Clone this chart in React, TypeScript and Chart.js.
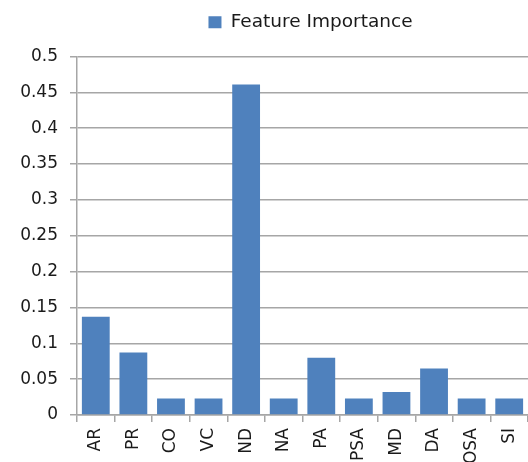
import React, { useEffect, useRef } from "react";
import { Chart, registerables } from "chart.js";

Chart.register(...registerables);

const categories = ["AR", "PR", "CO", "VC", "ND", "NA", "PA", "PSA", "MD", "DA", "OSA", "SI"];
const importance = [0.137, 0.087, 0.023, 0.023, 0.461, 0.023, 0.08, 0.023, 0.032, 0.065, 0.023, 0.023];
const seriesLabel = "Feature Importance";
const yMin = 0;
const yMax = 0.5;
const yStep = 0.05;

const FONT = "'DejaVu Sans', Verdana, sans-serif";
const GRID = "#a6a6a6";
const TEXT = "#1a1a1a";

const legendShift = {
  id: "legendShift",
  afterLayout(chart: any) {
    const l = chart.legend;
    if (l) {
      l.left += 8;
      l.right += 8;
    }
  },
};

export default function App() {
  const ref = useRef<HTMLCanvasElement | null>(null);

  useEffect(() => {
    if (!ref.current) return;
    const chart = new Chart(ref.current, {
      type: "bar",
      data: {
        labels: categories,
        datasets: [
          {
            label: seriesLabel,
            data: importance,
            backgroundColor: "#4f81bd",
            borderWidth: 0,
            categoryPercentage: 1,
            barPercentage: 0.74,
          },
        ],
      },
      plugins: [legendShift],
      options: {
        animation: false,
        responsive: true,
        maintainAspectRatio: false,
        layout: { padding: { top: 0, left: 0, right: 0, bottom: 0 } },
        plugins: {
          tooltip: { enabled: false },
          legend: {
            display: true,
            position: "top",
            fullSize: false,
            weight: 1000,
            labels: {
              color: TEXT,
              font: { family: FONT, size: 18.5 },
              boxWidth: 13,
              boxHeight: 12,
              padding: 13,
            },
          },
          subtitle: {
            display: true,
            text: "",
            weight: 500,
            font: { size: 1, lineHeight: 1 },
            padding: { top: 0, bottom: 14 },
          },
        },
        scales: {
          x: {
            grid: {
              display: true,
              drawOnChartArea: false,
              drawTicks: true,
              tickLength: 7,
              offset: true,
              color: GRID,
              lineWidth: 1.5,
            },
            border: { display: true, color: GRID, width: 1.5 },
            ticks: {
              color: TEXT,
              font: { family: FONT, size: 17 },
              minRotation: 90,
              maxRotation: 90,
              autoSkip: false,
              padding: 6,
            },
            afterFit: (scale: any) => {
              scale.height = 47;
              scale.paddingLeft = 0;
              scale.paddingRight = 0;
            },
          },
          y: {
            min: yMin,
            max: yMax,
            grid: {
              color: GRID,
              lineWidth: 1.5,
              tickLength: 7,
            },
            border: { display: true, color: GRID, width: 1.5 },
            ticks: {
              stepSize: yStep,
              color: TEXT,
              font: { family: FONT, size: 17 },
              padding: 12,
              callback: (v: any) => String(Number(Number(v).toFixed(2))),
            },
            afterFit: (scale: any) => {
              scale.width = 77;
            },
          },
        },
      },
    });
    return () => chart.destroy();
  }, []);

  return (
    <div style={{ position: "absolute", left: 0, top: 0, width: 528, height: 462, background: "#fff" }}>
      <canvas ref={ref} />
    </div>
  );
}
